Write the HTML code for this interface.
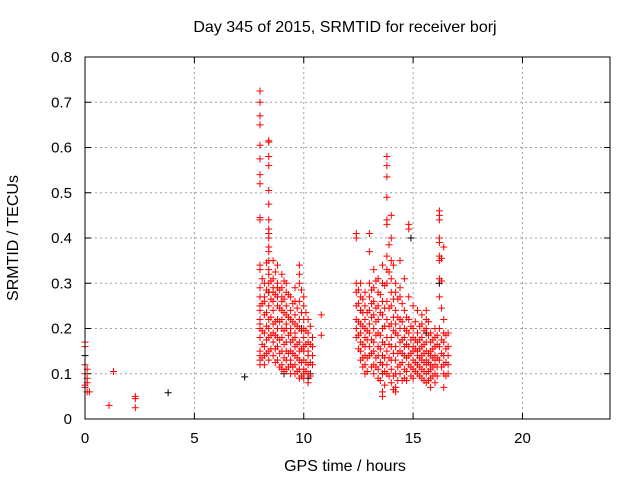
<!DOCTYPE html>
<html><head><meta charset="utf-8"><style>
body{margin:0;background:#fff}
svg text{font-family:"Liberation Sans",sans-serif;font-size:15px;fill:#000}
svg text.t{font-size:16px}
</style></head><body>
<svg id="c" width="640" height="480">
<rect width="640" height="480" fill="#fff"/>
<text class="t" x="345" y="32" text-anchor="middle">Day 345 of 2015, SRMTID for receiver borj</text>
<text class="t" x="345" y="471" text-anchor="middle">GPS time / hours</text>
<text class="t" transform="translate(18,238) rotate(-90)" text-anchor="middle">SRMTID / TECUs</text>
<g id="grid"></g><g id="ticks"></g><g id="marks"></g>
<rect x="85" y="57" width="525" height="362" fill="none" stroke="#000"/>
</svg>
<script>
const xTicks=[0,5,10,15,20];
const yTicks=[0,0.1,0.2,0.3,0.4,0.5,0.6,0.7,0.8];
const yTickLabels=["0","0.1","0.2","0.3","0.4","0.5","0.6","0.7","0.8"];
const redGroupHours=[0,0.1,0.2,1.1,1.3,2.3,8.0,8.4,8.2,8.6,8.8,9.0,9.2,9.4,9.6,9.8,10.0,10.2,10.4,10.8,12.4,12.6,12.8,13.0,13.2,13.4,13.6,13.8,14.0,14.2,14.4,14.6,14.8,15.0,15.2,15.4,15.6,15.8,16.0,16.2,16.4,16.6,
8.1,8.3,8.5,8.7,8.9,9.1,9.3,9.5,9.7,9.9,10.1,10.3,12.5,12.7,12.9,13.1,13.3,13.5,13.7,13.9,14.1,14.3,14.5,14.7,14.9,15.1,15.3,15.5,15.7,15.9,16.1,16.3,16.5];
const redGroupValues=[
[.17,.16,.12,.1,.075,.07],[.09,.08,.06,.11],[.06],[.03],[.105],[.05,.045,.025],
[.725,.70,.67,.65,.605,.575,.54,.52,.445,.44,.34,.33,.29,.27,.25,.22,.2,.18,.15,.14,.13,.12,.24,.21],
[.615,.612,.58,.56,.505,.475,.44,.42,.41,.40,.38,.37,.35,.33,.3,.28,.25,.22,.2,.18,.15,.13,.32],
[.3,.27,.23,.19,.16,.14,.12,.26],
[.35,.31,.29,.26,.24,.21,.19,.17,.14,.28],
[.34,.3,.27,.25,.22,.2,.18,.16,.13,.29],
[.32,.29,.27,.24,.22,.2,.18,.15,.12,.11,.26],
[.3,.28,.25,.23,.2,.17,.15,.13,.11,.21],
[.27,.24,.22,.19,.17,.15,.13,.12,.1,.2],
[.29,.26,.23,.21,.19,.16,.14,.12,.1,.18],
[.34,.32,.3,.26,.22,.2,.17,.15,.13,.11,.09],
[.27,.25,.22,.2,.18,.16,.15,.13,.11,.1,.09],
[.22,.19,.17,.15,.14,.12,.1,.08],
[.18,.16,.14,.12],
[.23,.185],
[.41,.4,.3,.28,.25,.22,.2,.18],
[.3,.27,.24,.21,.19,.17,.15,.13],
[.28,.25,.22,.2,.18,.16,.14,.12,.1],
[.41,.37,.3,.27,.24,.21,.19,.16,.14],
[.33,.29,.26,.23,.2,.17,.15,.12,.1],
[.31,.28,.25,.22,.19,.16,.14,.11,.09],
[.34,.3,.26,.23,.2,.17,.14,.12,.1,.06,.05],
[.58,.56,.535,.49,.44,.43,.36,.33,.3,.26,.22,.18,.15,.12,.1],
[.45,.4,.35,.31,.28,.25,.21,.18,.16,.13,.11,.08],
[.3,.28,.24,.21,.19,.16,.13,.1,.07,.06],
[.35,.29,.27,.22,.2,.17,.15,.12,.1],
[.31,.24,.2,.18,.16,.14,.11,.09],
[.43,.42,.27,.22,.19,.16,.14,.12],
[.25,.2,.18,.16,.15,.13,.11,.09],
[.24,.19,.17,.15,.14,.12,.1],
[.23,.21,.18,.16,.14,.13,.11,.09],
[.24,.22,.2,.17,.15,.13,.12,.1,.08],
[.19,.17,.15,.14,.12,.11,.09,.07],
[.2,.18,.16,.14,.13,.12,.1,.08],
[.46,.45,.44,.4,.39,.36,.35,.31,.27,.2,.16,.13],
[.38,.22,.19,.17,.14,.12,.1,.07],
[.19,.16,.14,.12,.1],
[.31,.255,.195,.165,.135],[.345,.285,.235,.205,.175,.145],[.305,.265,.225,.185,.155],[.325,.275,.215,.185,.155,.125],
[.285,.245,.215,.175,.145,.115],[.305,.265,.235,.195,.165,.135,.105],[.275,.225,.185,.145,.115],[.255,.215,.175,.145,.115],
[.245,.205,.165,.135,.105],[.285,.235,.195,.155,.125,.095],[.235,.195,.165,.125,.105],[.205,.165,.125,.095],
[.285,.255,.215,.185,.155],[.265,.235,.205,.165,.135,.115],[.235,.195,.175,.135,.105],[.285,.255,.225,.175,.145,.115],
[.305,.245,.215,.185,.135,.115],[.275,.235,.185,.155,.125,.085],[.295,.245,.205,.165,.135,.105,.075],[.385,.325,.245,.205,.165,.135,.095],
[.34,.265,.225,.195,.145,.095,.065],[.265,.225,.185,.145,.115,.085],[.255,.215,.175,.145,.125,.085],[.225,.195,.165,.135,.105,.085],
[.205,.175,.145,.115,.095],[.215,.175,.155,.125,.105],[.205,.175,.155,.135,.115,.095],[.195,.165,.145,.125,.105,.085],
[.215,.185,.145,.125,.105,.085],[.175,.155,.135,.115,.095],[.185,.165,.135,.115,.095],[.355,.305,.245,.175,.145,.115],[.185,.155,.125,.095]];
const blackHours=[3.8,7.3,0,9.1,10.3,13.6,14.9,16.2,8.4,12.6,15.6,10.2,9.9];
const blackValues=[.058,.093,.14,.1,.1,.1,.4,.3,.28,.24,.19,.09,.2];
const X=h=>85+h*525/24, Y=v=>419-v*362/0.8;
const NS="http://www.w3.org/2000/svg";
function mk(t,a,p){const e=document.createElementNS(NS,t);for(const k in a)e.setAttribute(k,a[k]);p.appendChild(e);return e;}
const grid=document.getElementById('grid'),ticks=document.getElementById('ticks'),marks=document.getElementById('marks');
xTicks.forEach(t=>{const x=X(t);
 if(t>0){const g=mk('line',{x1:x,x2:x,y1:57,y2:419,stroke:'#a0a0a0','stroke-dasharray':'2,3'},grid);
 
 }
 mk('line',{x1:x,x2:x,y1:419,y2:413,stroke:'#000'},ticks);mk('line',{x1:x,x2:x,y1:57,y2:63,stroke:'#000'},ticks);
 const l=mk('text',{x:x,y:443,'text-anchor':'middle'},ticks);l.textContent=t;
 
 });
yTicks.forEach((t,i)=>{const y=Y(t);
 if(t>0&&t<0.8){const g=mk('line',{x1:85,x2:610,y1:y,y2:y,stroke:'#a0a0a0','stroke-dasharray':'2,3'},grid);
 
 }
 mk('line',{x1:85,x2:91,y1:y,y2:y,stroke:'#000'},ticks);mk('line',{x1:610,x2:604,y1:y,y2:y,stroke:'#000'},ticks);
 const l=mk('text',{x:72,y:y+5,'text-anchor':'end'},ticks);l.textContent=yTickLabels[i];
 
 });
function plus(h,v,c){const x=X(h),y=Y(v);
 return mk('path',{d:`M${x-3.5},${y}H${x+3.5}M${x},${y-3.5}V${y+3.5}`,stroke:c,'stroke-width':1,fill:'none'},marks);}
blackHours.forEach((h,i)=>{const p=plus(h,blackValues[i],'#000');
 
 });
redGroupHours.forEach((h,g)=>redGroupValues[g].forEach(v=>{const p=plus(h,v,'#f00');
 
 }));
</script>
</body></html>
